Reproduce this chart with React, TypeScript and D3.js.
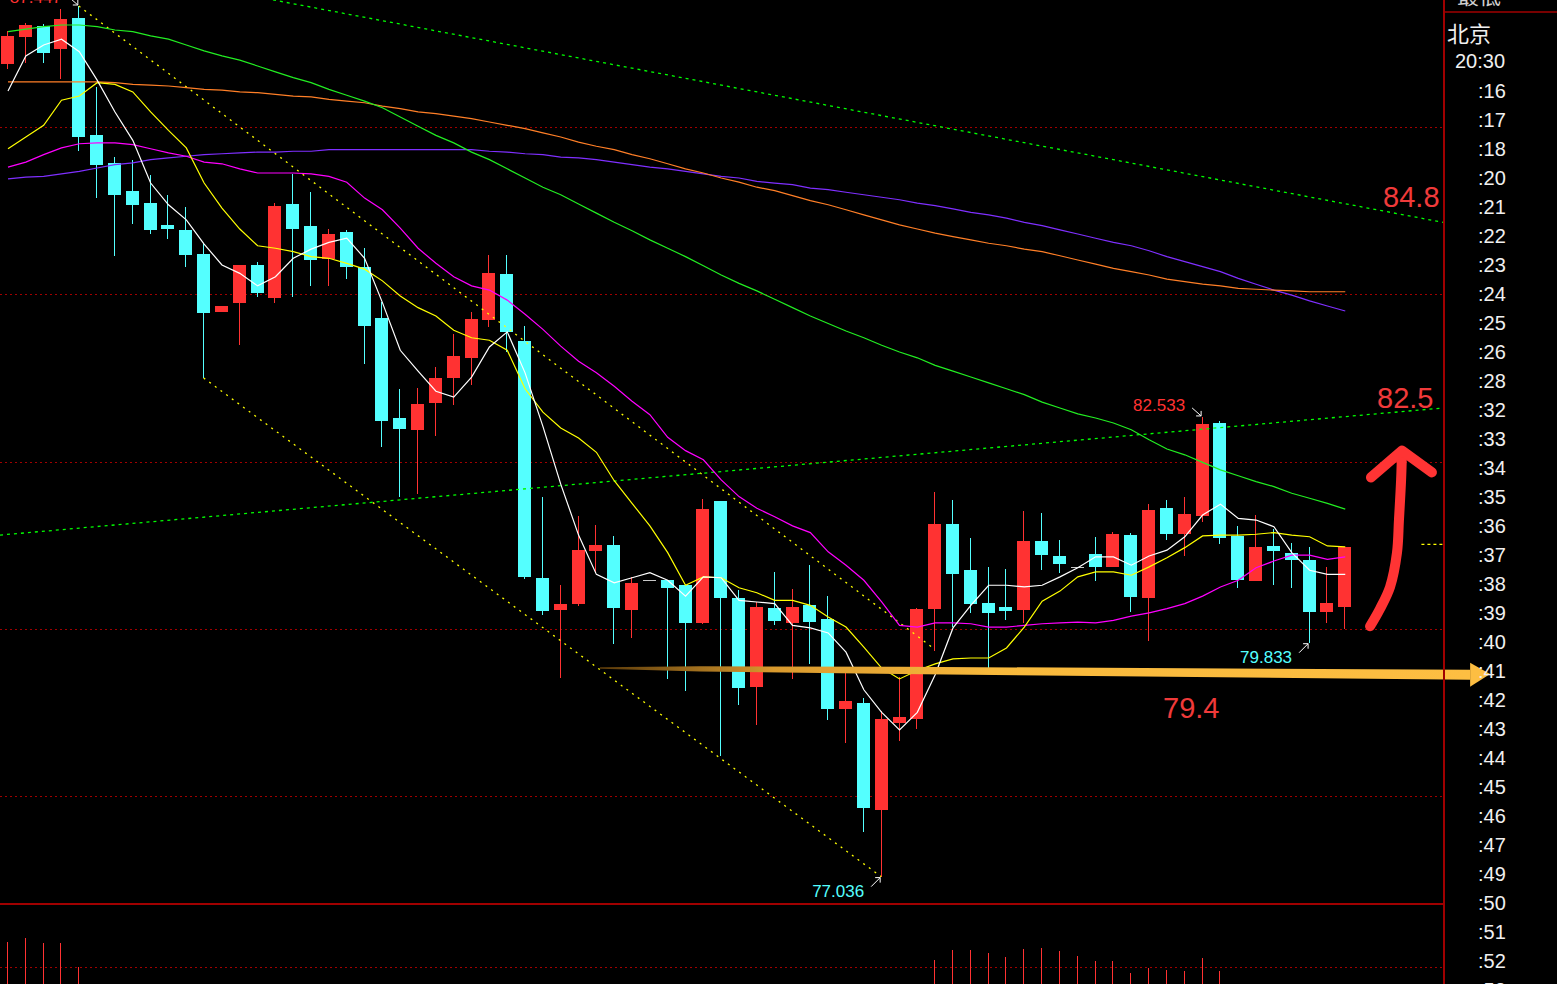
import React from 'react';
import * as d3 from 'd3';

// ---------- data ----------
const opens = [86.753,87.076,87.208,86.933,87.303,85.904,85.570,85.235,85.091,84.828,84.768,84.481,83.788,83.895,84.350,83.955,85.079,84.816,84.422,84.744,84.326,83.716,82.520,82.377,82.700,82.999,83.238,83.692,84.242,83.441,80.607,80.224,80.296,80.930,81.002,80.224,80.583,80.583,80.523,80.069,81.528,80.368,79.304,80.248,80.069,80.284,80.117,79.040,79.112,77.833,78.873,78.921,80.236,81.253,80.703,80.308,80.260,80.224,81.049,80.870,80.738,80.894,80.738,81.121,80.368,81.444,81.133,81.348,82.460,81.109,80.571,80.990,80.906,80.822,80.200,80.260];
const highs = [87.148,87.244,87.232,87.411,87.447,86.478,85.641,85.605,85.426,85.187,85.043,84.613,83.859,84.350,84.386,85.091,85.438,85.223,84.780,84.768,84.553,83.907,82.867,82.879,83.130,83.525,83.788,84.469,84.469,83.620,81.575,80.523,81.348,81.241,81.109,80.619,80.583,80.583,80.523,81.552,81.528,80.463,80.320,80.679,80.475,80.762,80.392,79.507,79.172,79.016,79.423,80.248,81.635,81.540,81.085,80.738,80.715,81.408,81.384,81.061,80.738,81.097,81.157,81.145,81.492,81.540,81.575,82.533,82.484,81.229,81.360,81.193,81.025,80.978,80.738,80.978];
const lows = [86.694,86.765,86.765,86.574,85.713,85.151,84.457,84.840,84.720,84.661,84.326,82.999,83.788,83.393,83.967,83.895,83.967,84.099,84.099,84.182,83.166,82.173,81.575,81.611,82.305,82.676,82.915,83.608,83.309,80.595,80.164,79.411,80.272,80.679,79.818,79.889,80.583,79.399,79.256,80.057,78.478,79.088,78.849,80.045,79.399,79.579,78.909,78.634,77.570,77.036,78.658,78.801,79.734,80.021,80.188,79.531,80.105,80.069,80.703,80.667,80.738,80.571,80.738,80.200,79.853,81.061,80.870,81.277,81.013,80.487,80.571,80.523,80.487,79.833,80.069,79.997];
const closes = [87.088,87.220,86.885,87.291,85.880,85.546,85.187,85.067,84.768,84.780,84.469,83.776,83.859,84.350,84.015,85.055,84.780,84.410,84.720,84.326,83.620,82.484,82.389,82.688,82.999,83.262,83.704,84.254,83.549,80.619,80.212,80.296,80.942,81.002,80.248,80.547,80.583,80.487,80.069,81.432,80.368,79.292,80.260,80.093,80.260,80.081,79.040,79.136,77.857,78.921,78.945,80.236,81.253,80.655,80.296,80.188,80.212,81.049,80.882,80.774,80.738,80.738,81.133,80.380,81.420,81.133,81.372,82.448,81.085,80.583,80.978,80.930,80.822,80.200,80.308,80.978];

// volume: only the bars that reach into the visible strip are known; the rest are hidden (null)
const volumes: (number | null)[] = [
  37810, 39060, 37500, 37500, 30000, null, null, null, null, null,
  null, null, null, null, null, null, null, null, null, null,
  null, null, null, null, null, null, null, null, null, null,
  null, null, null, null, null, null, null, null, null, null,
  null, null, null, null, null, null, null, null, null, null,
  null, null, 32190, 35310, 35310, 34380, 33130, 35630, 35940, 35000,
  33440, 31880, 31880, 28130, 29690, 29060, 28750, 32810, 28750, null,
  null, null, null, null, null, null,
];

const ma5 = [86.43,86.85,86.98,87.05,86.90,86.56,86.18,85.84,85.33,85.07,84.89,84.60,84.35,84.25,84.10,84.21,84.43,84.54,84.62,84.67,84.43,83.90,83.33,83.08,82.84,82.77,83.01,83.37,83.55,83.06,82.42,81.73,81.12,80.65,80.55,80.61,80.67,80.58,80.39,80.62,80.61,80.34,80.32,80.30,80.04,80.01,79.95,79.72,79.27,79.00,78.79,79.00,79.45,80.01,80.28,80.52,80.52,80.50,80.52,80.62,80.73,80.86,80.86,80.76,80.87,80.94,81.10,81.36,81.49,81.32,81.30,81.22,80.91,80.70,80.65,80.65];
const ma10 = [85.74,85.88,86.02,86.32,86.37,86.53,86.51,86.42,86.18,85.96,85.75,85.33,85.03,84.78,84.58,84.55,84.51,84.45,84.43,84.37,84.30,84.16,83.98,83.84,83.74,83.57,83.48,83.45,83.33,82.87,82.59,82.40,82.28,82.11,81.77,81.50,81.23,80.91,80.52,80.62,80.61,80.49,80.43,80.34,80.34,80.28,80.14,80.02,79.78,79.53,79.40,79.50,79.58,79.64,79.65,79.65,79.77,80.02,80.33,80.45,80.62,80.68,80.68,80.64,80.74,80.85,80.97,81.11,81.12,81.12,81.13,81.15,81.12,81.10,80.99,80.98];
const ma20 = [85.52,85.58,85.67,85.75,85.80,85.81,85.81,85.79,85.74,85.69,85.65,85.58,85.56,85.50,85.45,85.45,85.45,85.44,85.41,85.34,85.15,85.01,84.79,84.55,84.37,84.21,84.10,84.05,83.93,83.76,83.58,83.38,83.20,83.06,82.90,82.72,82.56,82.29,82.13,82.02,81.78,81.58,81.44,81.34,81.23,81.15,80.92,80.76,80.58,80.32,80.04,80.02,80.07,80.07,80.06,80.02,80.02,80.04,80.06,80.07,80.08,80.07,80.10,80.15,80.19,80.24,80.30,80.39,80.50,80.58,80.73,80.81,80.88,80.88,80.83,80.86];
const ma60 = [87.14,87.17,87.20,87.22,87.22,87.20,87.16,87.14,87.09,87.05,86.98,86.91,86.85,86.80,86.73,86.66,86.59,86.53,86.45,86.38,86.31,86.23,86.12,86.01,85.90,85.81,85.70,85.61,85.50,85.39,85.28,85.19,85.08,84.97,84.86,84.76,84.65,84.55,84.45,84.34,84.23,84.13,84.04,83.94,83.84,83.74,83.65,83.56,83.48,83.39,83.31,83.24,83.15,83.08,83.01,82.94,82.87,82.80,82.71,82.64,82.57,82.52,82.46,82.38,82.26,82.15,82.08,81.99,81.90,81.83,81.76,81.70,81.62,81.56,81.50,81.43];
const ma120 = [86.54,86.54,86.54,86.54,86.54,86.54,86.53,86.51,86.50,86.49,86.47,86.45,86.44,86.42,86.41,86.39,86.37,86.36,86.33,86.31,86.29,86.25,86.22,86.18,86.16,86.13,86.10,86.06,86.02,85.98,85.93,85.88,85.82,85.77,85.73,85.67,85.62,85.56,85.50,85.45,85.39,85.34,85.28,85.24,85.18,85.12,85.07,85.01,84.95,84.89,84.83,84.78,84.73,84.69,84.65,84.61,84.58,84.54,84.51,84.46,84.41,84.36,84.31,84.27,84.23,84.18,84.15,84.12,84.10,84.07,84.06,84.05,84.04,84.03,84.03,84.03];
const ma250 = [85.38,85.40,85.41,85.44,85.47,85.51,85.55,85.57,85.61,85.63,85.65,85.67,85.68,85.69,85.70,85.70,85.71,85.71,85.73,85.73,85.73,85.73,85.73,85.73,85.73,85.73,85.73,85.71,85.70,85.68,85.67,85.64,85.63,85.61,85.58,85.55,85.52,85.50,85.47,85.44,85.41,85.39,85.35,85.33,85.31,85.27,85.25,85.22,85.19,85.16,85.13,85.09,85.06,85.02,84.98,84.95,84.91,84.86,84.82,84.77,84.72,84.67,84.62,84.58,84.52,84.45,84.39,84.33,84.27,84.19,84.12,84.05,83.99,83.92,83.86,83.80];

const priceGrid = [86, 84, 82, 80, 78];
const volumeGrid = [30000];

const timeTicks = [':16', ':17', ':18', ':20', ':21', ':22', ':23', ':24', ':25', ':26', ':28', ':32', ':33', ':34', ':35', ':36', ':37', ':38', ':39', ':40', ':41', ':42', ':43', ':44', ':45', ':46', ':47', ':49', ':50', ':51', ':52', ':53'];

// trend lines as [candle index, price]
const trendLines = [
  { from: [4, 87.447], to: [51.85, 79.78], color: '#ffff00', dash: '2,5' },
  { from: [11, 82.999], to: [49, 77.036], color: '#ffff00', dash: '2,5' },
  { from: [14.89, 87.52], to: [80.51, 84.86], color: '#00ff00', dash: '3,4' },
  { from: [-0.42, 81.12], to: [80.51, 82.64], color: '#00ff00', dash: '3,4' },
  { from: [79.3, 81.01], to: [80.5, 81.01], color: '#ffff00', dash: '3,3' },
];

const extremeLabels = [
  { index: 4, price: 87.447, text: '87.447', color: '#ff3232', kind: 'high', dy: -3 },
  { index: 67, price: 82.533, text: '82.533', color: '#ff3232', kind: 'high', dy: -6 },
  { index: 73, price: 79.833, text: '79.833', color: '#54ffff', kind: 'low', dy: 20 },
  { index: 49, price: 77.036, text: '77.036', color: '#54ffff', kind: 'low', dy: 20 },
];

const levelLabels = [
  { text: '84.8', index: 77.15, price: 85.04 },
  { text: '82.5', index: 76.81, price: 82.64 },
  { text: '79.4', index: 64.81, price: 78.93 },
];

// hand-drawn annotations, as [candle index, price]
const redArrowShaft = [[76.42, 80.03], [76.98, 80.24], [77.54, 80.50], [77.93, 80.91], [78.04, 81.30], [78.16, 81.78], [78.21, 82.11]];
const redArrowHead = [[76.47, 81.81], [78.21, 82.13], [79.89, 81.87]];
const orangeArrow = { start: [33.23, 79.53], end: [82.03, 79.45], tip: [83.15, 79.46] };

// ---------- chart ----------
const W = 1557;
const H = 984;
const PLOT_RIGHT = 1444;
const MAIN_BOTTOM = 904;
const RED = '#ff3232';
const CYAN = '#54ffff';
const GRID = '#a00000';
const FONT = "'Liberation Sans', Arial, sans-serif";

const xScale = d3.scaleLinear().domain([0, 75]).range([7.5, 1344.75]);
const yScale = d3.scaleLinear().domain([78, 86]).range([796, 127]);
const volScale = d3.scaleLinear().domain([0, 30000]).range([1063, 967]);

const maLine = d3.line<number>().x((_, i) => xScale(i) + 0.5).y((d) => yScale(d));
const ptLine = d3.line<number[]>().x((d) => xScale(d[0])).y((d) => yScale(d[1]));
const curvedLine = d3.line<number[]>().x((d) => xScale(d[0])).y((d) => yScale(d[1])).curve(d3.curveCatmullRom);

const maSeries = [
  { data: ma250, color: '#7f2fff' },
  { data: ma120, color: '#ff7f27' },
  { data: ma60, color: '#22ee22' },
  { data: ma20, color: '#ff00ff' },
  { data: ma10, color: '#ffff00' },
  { data: ma5, color: '#ffffff' },
];

function OrangeArrow() {
  const x0 = xScale(orangeArrow.start[0]);
  const y0 = yScale(orangeArrow.start[1]);
  const x1 = xScale(orangeArrow.end[0]);
  const y1 = yScale(orangeArrow.end[1]);
  const xt = xScale(orangeArrow.tip[0]);
  const yt = yScale(orangeArrow.tip[1]);
  const fr = [0, 0.115, 0.345, 1];
  const hw = [0.8, 2.6, 3.6, 5];
  const top = fr.map((f, k) => [x0 + (x1 - x0) * f, y0 + (y1 - y0) * f - hw[k]]);
  const bot = fr.map((f, k) => [x0 + (x1 - x0) * f, y0 + (y1 - y0) * f + hw[k]]).reverse();
  const pts = [...top, ...bot].map((p) => p.join(',')).join(' ');
  const head = [[x1, y1 - 12], [xt, yt], [x1, y1 + 12]].map((p) => p.join(',')).join(' ');
  return (
    <g>
      <defs>
        <linearGradient id="orgGrad" x1="0" x2="1" y1="0" y2="0">
          <stop offset="0" stopColor="#5a3a0a" />
          <stop offset="0.2" stopColor="#d99a2e" />
          <stop offset="0.45" stopColor="#f8b93c" />
          <stop offset="1" stopColor="#fdbe42" />
        </linearGradient>
      </defs>
      <polygon points={pts} fill="url(#orgGrad)" />
      <polygon points={head} fill="#fdbe42" />
    </g>
  );
}

export default function App() {
  return (
    <div>
      <svg width={W} height={H} style={{ position: 'absolute', left: 0, top: 0, background: '#000', display: 'block' }}>
        <rect x={0} y={0} width={W} height={H} fill="#000" />
        <defs>
          <clipPath id="mainClip">
            <rect x={0} y={0} width={PLOT_RIGHT} height={MAIN_BOTTOM} />
          </clipPath>
          <clipPath id="volClip">
            <rect x={0} y={MAIN_BOTTOM + 1} width={PLOT_RIGHT} height={H - MAIN_BOTTOM} />
          </clipPath>
        </defs>

        {/* grid */}
        {priceGrid.map((p) => (
          <line key={p} x1={0} x2={PLOT_RIGHT} y1={Math.round(yScale(p)) + 0.5} y2={Math.round(yScale(p)) + 0.5}
            stroke={GRID} strokeWidth={1} strokeDasharray="2,3" />
        ))}
        {volumeGrid.map((v) => (
          <line key={v} x1={0} x2={PLOT_RIGHT} y1={Math.round(volScale(v)) + 0.5} y2={Math.round(volScale(v)) + 0.5}
            stroke={GRID} strokeWidth={1} strokeDasharray="2,3" />
        ))}

        {/* candles */}
        <g clipPath="url(#mainClip)" shapeRendering="crispEdges">
          {opens.map((o, i) => {
            const c = closes[i];
            const color = c > o ? RED : c < o ? CYAN : '#c8c8c8';
            const cx = Math.floor(xScale(i));
            const yh = Math.round(yScale(highs[i]));
            const yl = Math.round(yScale(lows[i]));
            const yt = Math.round(yScale(Math.max(o, c)));
            const yb = Math.round(yScale(Math.min(o, c)));
            return (
              <g key={i}>
                {yl > yh && <rect x={cx} y={yh} width={1} height={yl - yh} fill={color} />}
                <rect x={cx - 6} y={yt} width={13} height={Math.max(1, yb - yt)} fill={color} />
              </g>
            );
          })}
        </g>

        {/* moving averages and trend lines */}
        <g clipPath="url(#mainClip)">
          {trendLines.map((t, k) => (
            <path key={k} d={ptLine([t.from, t.to]) || ''} stroke={t.color} strokeWidth={1.3}
              strokeDasharray={t.dash} fill="none" />
          ))}
          {maSeries.map((s, k) => (
            <path key={k} d={maLine(s.data) || ''} stroke={s.color} strokeWidth={1.2} fill="none" />
          ))}
        </g>

        {/* extreme labels */}
        {extremeLabels.map((l, k) => {
          const x = xScale(l.index);
          const y = yScale(l.price);
          const isHigh = l.kind === 'high';
          const ax0 = x - 10;
          const ay0 = isHigh ? y - 9 : y + 10;
          const ax1 = x - 1;
          const ay1 = isHigh ? y - 1 : y + 1;
          const head = isHigh
            ? `M${ax1 - 5},${ay1} L${ax1},${ay1} L${ax1},${ay1 - 5}`
            : `M${ax1 - 5},${ay1} L${ax1},${ay1} L${ax1},${ay1 + 5}`;
          return (
            <g key={k}>
              <text x={x - 17} y={y + l.dy} fill={l.color} fontSize={17} fontFamily={FONT} textAnchor="end">{l.text}</text>
              <line x1={ax0} y1={ay0} x2={ax1} y2={ay1} stroke="#ffffff" strokeWidth={1} />
              <path d={head} stroke="#ffffff" strokeWidth={1} fill="none" />
            </g>
          );
        })}

        {/* level labels */}
        {levelLabels.map((l) => (
          <text key={l.text} x={xScale(l.index)} y={yScale(l.price)} fill="#f03a3a" fontSize={29} fontFamily={FONT}>{l.text}</text>
        ))}

        {/* hand-drawn annotations */}
        <OrangeArrow />
        <path d={curvedLine(redArrowShaft) || ''} stroke="#ff3434" strokeWidth={10} fill="none" strokeLinecap="round" strokeLinejoin="round" />
        <path d={ptLine(redArrowHead) || ''} stroke="#ff3434" strokeWidth={10} fill="none" strokeLinecap="round" strokeLinejoin="round" />

        {/* volume */}
        <g clipPath="url(#volClip)" shapeRendering="crispEdges">
          {volumes.map((v, i) => v == null ? null : (
            <rect key={i} x={Math.floor(xScale(i))} y={volScale(v)} width={1} height={volScale(0) - volScale(v)} fill={RED} />
          ))}
        </g>

        {/* panel separators */}
        <line x1={0} x2={PLOT_RIGHT} y1={MAIN_BOTTOM} y2={MAIN_BOTTOM} stroke="#a00000" strokeWidth={2} />
        <line x1={PLOT_RIGHT} x2={PLOT_RIGHT} y1={0} y2={H} stroke="#a00000" strokeWidth={2} />
        <line x1={PLOT_RIGHT} x2={W} y1={12} y2={12} stroke="#a00000" strokeWidth={1.5} />

        {/* right-hand time list */}
        <text x={1457} y={4} fill="#cfcfcf" fontSize={22} fontFamily="'Noto Sans CJK SC', sans-serif">最低</text>
        <text x={1447} y={42} fill="#f0f0f0" fontSize={22} fontFamily="'Noto Sans CJK SC', sans-serif">北京</text>
        <text x={1455} y={68} fill="#f0f0f0" fontSize={20} fontFamily={FONT}>20:30</text>
        {timeTicks.map((t, k) => (
          <text key={t} x={1478} y={98 + k * 29} fill="#f0f0f0" fontSize={20} fontFamily={FONT}>{t}</text>
        ))}
      </svg>
    </div>
  );
}
